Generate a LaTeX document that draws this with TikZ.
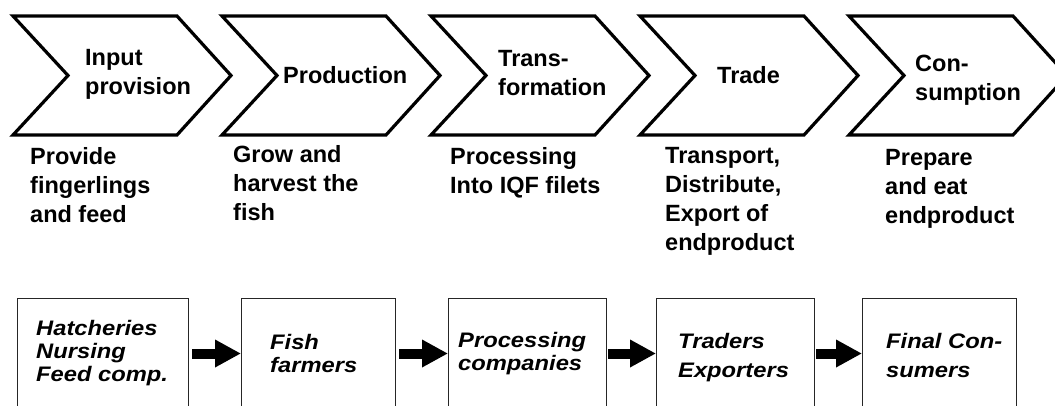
\documentclass[tikz,border=0pt]{standalone}
\usepackage{fontspec}
\setmainfont{Liberation Sans}
\newfontfamily\actorfont[FakeStretch=1.13]{Liberation Sans}
\usetikzlibrary{positioning, arrows.meta}

\begin{document}
\begin{tikzpicture}[x=1pt, y=-1pt,
    chev/.style={line width=3.2pt, line join=miter},
    stagetxt/.style={font=\bfseries\fontsize{23.5}{29}\selectfont, align=left,
      inner sep=0pt, anchor=base west},
    actor/.style={draw=black!85, line width=1pt, minimum height=110pt,
      inner sep=0pt},
    actortxt/.style={font=\actorfont\bfseries\itshape\fontsize{21}{23}\selectfont,
      align=left, inner sep=0pt},
    flow/.style={line width=10pt, -{Triangle[length=26pt, width=26pt]}}]
  \clip (0,0) rectangle (1055,405);%

  % chevrons
  \foreach \i in {0,...,4}
  \draw [chev] ({13+209*\i},16) -- ++(164,0) -- ++(54,59.5) -- ++(-54,59.5)
  -- ++(-164,0) -- ++(55,-59.5) -- cycle;%

  % stage labels (base = last line)
  \node [stagetxt] (input) at (85,94) {Input\\provision};%
  \node [stagetxt] (prod) at (283,83) {Production};%
  \node [stagetxt] (trans) at (498,95) {Trans-\\formation};%
  \node [stagetxt] (trade) at (717,83) {Trade};%
  \node [stagetxt] (cons) at (915,100) {Con-\\sumption};%

  % activities
  \node [stagetxt] (inputact) at (30,222) {Provide\\fingerlings\\and feed};%
  \node [stagetxt] (prodact) at (233,220) {Grow and\\harvest the\\fish};%
  \node [stagetxt] (transact) at (450,193) {Processing\\Into IQF filets};%
  \node [stagetxt] (tradeact) at (665,250)
  {Transport,\\Distribute,\\Export of\\endproduct};%
  \node [stagetxt] (consact) at (885,223) {Prepare\\and eat\\endproduct};%

  % actors
  \node [actor, minimum width=171pt, anchor=north west] (hatch) at (17,298) {};%
  \node [actor, minimum width=154pt, right=52pt of hatch] (farm) {};%
  \node [actor, minimum width=158pt, right=52pt of farm] (proc) {};%
  \node [actor, minimum width=158pt, right=49pt of proc] (exp) {};%
  \node [actor, minimum width=154pt, right=47pt of exp] (fin) {};%

  \node [actortxt, right=19pt of hatch.west, anchor=west]
  {Hatcheries\\Nursing\\Feed comp.};%
  \node [actortxt, right=29pt of farm.west, anchor=west] {Fish\\farmers};%
  \node [actortxt, right=10pt of proc.west, anchor=west]
  {Processing\\companies};%
  \node [actortxt, right=22pt of exp.west, anchor=west, yshift=-4pt,
  font=\actorfont\bfseries\itshape\fontsize{21}{29}\selectfont]
  {Traders\\Exporters};%
  \node [actortxt, right=24pt of fin.west, anchor=west, yshift=-2pt,
  font=\actorfont\bfseries\itshape\fontsize{21}{29}\selectfont]
  {Final Con-\\sumers};%

  % arrows
  \draw [flow] ([xshift=3pt]hatch.east) -- (farm.west);%
  \draw [flow] ([xshift=3pt]farm.east) -- (proc.west);%
  \draw [flow] ([xshift=1pt]proc.east) -- (exp.west);%
  \draw [flow] ([xshift=1pt]exp.east) -- (fin.west);%
\end{tikzpicture}
\end{document}
